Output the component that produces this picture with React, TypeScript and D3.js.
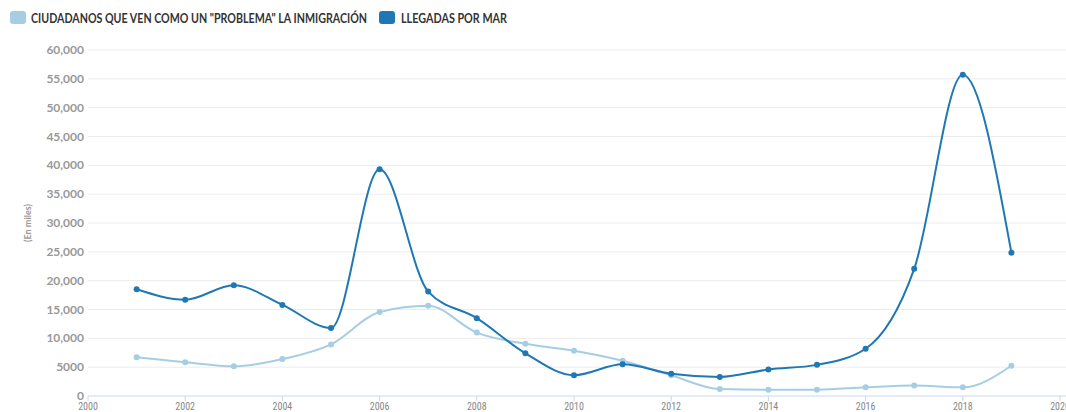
import React from "react";
import * as d3 from "d3";

// Data
const years = [2001, 2002, 2003, 2004, 2005, 2006, 2007, 2008, 2009, 2010, 2011, 2012, 2013, 2014, 2015, 2016, 2017, 2018, 2019];
const problema = [6700, 5850, 5150, 6400, 8950, 14550, 15650, 11000, 9050, 7850, 6100, 3600, 1200, 1100, 1100, 1500, 1800, 1500, 5250];
const llegadas = [18500, 16700, 19200, 15800, 11800, 39300, 18100, 13500, 7400, 3600, 5500, 3850, 3300, 4600, 5400, 8200, 22050, 55700, 24850];
const xTicks = [2000, 2002, 2004, 2006, 2008, 2010, 2012, 2014, 2016, 2018, 2020];
const yTicks = [0, 5000, 10000, 15000, 20000, 25000, 30000, 35000, 40000, 45000, 50000, 55000, 60000];

const series = [
  { name: 'CIUDADANOS QUE VEN COMO UN "PROBLEMA" LA INMIGRACIÓN', values: problema, color: "#a6cee3" },
  { name: "LLEGADAS POR MAR", values: llegadas, color: "#1f78b4" },
];

const width = 1066;
const height = 412;
const margin = { top: 50, right: 6, bottom: 16, left: 88 };

const App = () => {
  const x = d3.scaleLinear().domain([2000, 2020]).range([margin.left, width - margin.right]);
  const y = d3.scaleLinear().domain([0, 60000]).range([height - margin.bottom, margin.top]);

  const line = d3
    .line<number>()
    .x((_, i) => x(years[i]))
    .y((d) => y(d))
    .curve(d3.curveMonotoneX);

  const fmt = (v: number) => (v >= 10000 ? d3.format(",")(v) : String(v));
  const legendFont = "'Liberation Sans Narrow', Lato, sans-serif";

  return (
    <svg width={width} height={height} style={{ position: "absolute", left: 0, top: 0 }}>
      {/* legend */}
      <g fontFamily={legendFont} fontWeight="bold" fontSize={13} fill="#333">
        <rect x={10} y={11} width={16} height={13} rx={3} fill={series[0].color} />
        <text x={31} y={22.5} textLength={336} lengthAdjust="spacingAndGlyphs">{series[0].name}</text>
        <rect x={379} y={11} width={16} height={13} rx={3} fill={series[1].color} />
        <text x={401} y={22.5} textLength={106} lengthAdjust="spacingAndGlyphs">{series[1].name}</text>
      </g>

      {/* grid + y labels */}
      <g>
        {yTicks.map((t) => (
          <g key={t}>
            {t > 0 && (
              <line x1={margin.left} x2={width} y1={y(t)} y2={y(t)} stroke="#ececec" strokeWidth={1} />
            )}
            <text
              x={84}
              y={y(t) + 4}
              textAnchor="end"
              fontFamily="Lato, sans-serif"
              fontWeight="bold"
              fontSize={12}
              fill="#999"
            >
              {fmt(t)}
            </text>
          </g>
        ))}
      </g>

      {/* y axis title */}
      <text
        transform={`translate(31,${(y(0) + y(60000)) / 2}) rotate(-90)`}
        textAnchor="middle"
        fontFamily="Lato, sans-serif"
        fontWeight="bold"
        fontSize={9}
        fill="#999"
      >
        (En miles)
      </text>

      {/* x axis */}
      <line x1={margin.left} x2={width} y1={y(0)} y2={y(0)} stroke="#ccd6eb" strokeWidth={1} />
      {xTicks.map((t) => (
        <g key={t}>
          <line x1={x(t)} x2={x(t)} y1={y(0)} y2={y(0) + 5} stroke="#ccd6eb" />
          <text
            x={x(t)}
            y={y(0) + 14}
            textAnchor="middle"
            fontFamily="'Liberation Sans Narrow', 'Roboto Condensed', Roboto, sans-serif"
            fontSize={10}
            fill="#888"
          >
            {t}
          </text>
        </g>
      ))}

      {/* series */}
      {series.map((s) => (
        <g key={s.name}>
          <path d={line(s.values) ?? ""} fill="none" stroke={s.color} strokeWidth={2} />
          {s.values.map((v, i) => (
            <circle key={i} cx={x(years[i])} cy={y(v)} r={3} fill={s.color} />
          ))}
        </g>
      ))}
    </svg>
  );
};

export default App;
